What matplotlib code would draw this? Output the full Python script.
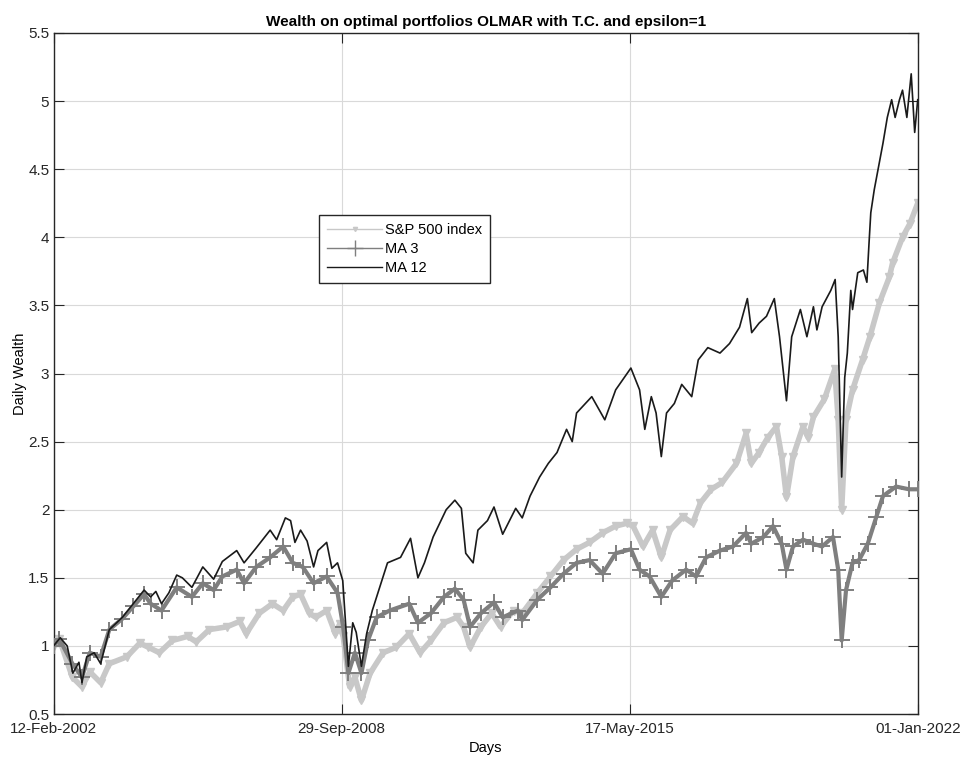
import numpy as np
import pandas as pd
import matplotlib
matplotlib.use('Agg')
import matplotlib.pyplot as plt
import matplotlib.dates as mdates
from matplotlib.lines import Line2D

plt.rcParams['font.family'] = ['Liberation Sans', 'DejaVu Sans']

# data (decimal years, wealth)
ma12_t = [2002.115, 2002.27, 2002.43, 2002.56, 2002.70, 2002.77, 2002.88, 2003.05, 2003.20, 2003.40,
          2003.70, 2003.95, 2004.20, 2004.35, 2004.47, 2004.60, 2004.77, 2004.95, 2005.08, 2005.30,
          2005.55, 2005.80, 2006.00, 2006.33, 2006.50, 2006.78, 2007.10, 2007.25, 2007.45, 2007.57,
          2007.67, 2007.80, 2007.95, 2008.10, 2008.20, 2008.40, 2008.52, 2008.65, 2008.77, 2008.82,
          2008.90, 2009.00, 2009.08, 2009.20, 2009.32, 2009.45, 2009.67, 2009.80, 2010.10, 2010.33,
          2010.50, 2010.65, 2010.85, 2011.15, 2011.35, 2011.50, 2011.60, 2011.77, 2011.88, 2012.10,
          2012.25, 2012.45, 2012.75, 2012.90, 2013.08, 2013.30, 2013.50, 2013.70, 2013.92, 2014.05,
          2014.15, 2014.50, 2014.80, 2015.05, 2015.40, 2015.60, 2015.72, 2015.87, 2015.98, 2016.10,
          2016.22, 2016.40, 2016.57, 2016.80, 2016.95, 2017.17, 2017.45, 2017.67, 2017.90, 2018.08,
          2018.18, 2018.35, 2018.52, 2018.70, 2018.82, 2018.98, 2019.10, 2019.30, 2019.45, 2019.60,
          2019.68, 2019.80, 2020.00, 2020.10, 2020.17, 2020.25, 2020.32, 2020.38, 2020.46, 2020.50,
          2020.62, 2020.75, 2020.83, 2020.88, 2020.92, 2021.00, 2021.10, 2021.20, 2021.30, 2021.40,
          2021.48, 2021.58, 2021.65, 2021.75, 2021.85, 2021.93, 2022.00]
ma12_v = [1.00, 1.06, 1.00, 0.80, 0.88, 0.73, 0.92, 0.95, 0.87, 1.12,
          1.21, 1.31, 1.41, 1.36, 1.40, 1.31, 1.39, 1.52, 1.50, 1.43,
          1.58, 1.49, 1.62, 1.70, 1.61, 1.72, 1.85, 1.78, 1.94, 1.92,
          1.76, 1.85, 1.77, 1.58, 1.70, 1.76, 1.57, 1.61, 1.48, 1.24,
          0.85, 1.17, 1.10, 0.85, 1.09, 1.26, 1.48, 1.61, 1.65, 1.79,
          1.50, 1.61, 1.80, 2.00, 2.07, 2.01, 1.68, 1.61, 1.85, 1.92,
          2.02, 1.82, 2.01, 1.94, 2.10, 2.24, 2.34, 2.42, 2.59, 2.50,
          2.71, 2.83, 2.66, 2.88, 3.04, 2.88, 2.59, 2.83, 2.71, 2.39,
          2.71, 2.78, 2.92, 2.83, 3.10, 3.19, 3.15, 3.22, 3.34, 3.55,
          3.30, 3.37, 3.42, 3.55, 3.27, 2.80, 3.27, 3.47, 3.27, 3.49,
          3.32, 3.49, 3.61, 3.69, 3.27, 2.24, 2.97, 3.15, 3.61, 3.47,
          3.74, 3.76, 3.67, 3.96, 4.18, 4.35, 4.52, 4.69, 4.88, 5.01,
          4.88, 5.01, 5.08, 4.88, 5.20, 4.77, 5.01]

sp_t = [2002.115, 2002.25, 2002.55, 2002.77, 2002.95, 2003.20, 2003.40, 2003.80, 2004.10, 2004.30,
        2004.55, 2004.85, 2005.20, 2005.40, 2005.70, 2006.10, 2006.40, 2006.55, 2006.85, 2007.15,
        2007.40, 2007.62, 2007.80, 2008.00, 2008.15, 2008.40, 2008.60, 2008.70, 2008.78, 2008.93,
        2009.05, 2009.20, 2009.40, 2009.70, 2010.00, 2010.30, 2010.55, 2010.80, 2011.10, 2011.40,
        2011.55, 2011.70, 2011.95, 2012.20, 2012.40, 2012.70, 2012.90, 2013.25, 2013.55, 2013.85,
        2014.15, 2014.45, 2014.75, 2015.05, 2015.30, 2015.45, 2015.68, 2015.90, 2016.10, 2016.30,
        2016.60, 2016.82, 2017.00, 2017.25, 2017.50, 2017.83, 2018.05, 2018.17, 2018.35, 2018.55,
        2018.75, 2018.87, 2018.98, 2019.13, 2019.36, 2019.48, 2019.60, 2019.85, 2020.09, 2020.17,
        2020.25, 2020.35, 2020.50, 2020.73, 2020.90, 2021.12, 2021.35, 2021.42, 2021.65, 2021.82,
        2022.00]
sp_v = [1.00, 1.05, 0.77, 0.70, 0.81, 0.73, 0.87, 0.92, 1.02, 0.99,
        0.95, 1.04, 1.07, 1.03, 1.12, 1.14, 1.18, 1.09, 1.24, 1.31,
        1.26, 1.36, 1.38, 1.24, 1.21, 1.26, 1.09, 1.16, 1.07, 0.70,
        0.77, 0.60, 0.80, 0.95, 0.99, 1.09, 0.95, 1.04, 1.17, 1.21,
        1.14, 0.99, 1.14, 1.24, 1.14, 1.26, 1.24, 1.39, 1.51, 1.63,
        1.71, 1.76, 1.83, 1.88, 1.90, 1.88, 1.73, 1.85, 1.65, 1.85,
        1.95, 1.90, 2.05, 2.15, 2.20, 2.34, 2.56, 2.34, 2.42, 2.53,
        2.61, 2.39, 2.09, 2.39, 2.61, 2.53, 2.68, 2.81, 3.03, 2.66,
        2.00, 2.66, 2.88, 3.10, 3.27, 3.52, 3.71, 3.81, 4.00, 4.10,
        4.25]

ma3_t = [2002.115, 2002.25, 2002.55, 2002.77, 2002.95, 2003.20, 2003.40, 2003.70, 2003.95, 2004.20,
         2004.35, 2004.60, 2004.95, 2005.30, 2005.55, 2005.80, 2006.00, 2006.33, 2006.50, 2006.78,
         2007.10, 2007.40, 2007.62, 2007.85, 2008.10, 2008.40, 2008.65, 2008.78, 2008.90, 2009.05,
         2009.20, 2009.35, 2009.55, 2009.85, 2010.30, 2010.50, 2010.80, 2011.10, 2011.35, 2011.55,
         2011.70, 2011.95, 2012.25, 2012.45, 2012.80, 2012.90, 2013.25, 2013.55, 2013.85, 2014.15,
         2014.45, 2014.75, 2015.05, 2015.40, 2015.60, 2015.83, 2016.10, 2016.35, 2016.67, 2016.90,
         2017.13, 2017.45, 2017.75, 2018.05, 2018.17, 2018.45, 2018.67, 2018.87, 2018.98, 2019.13,
         2019.36, 2019.60, 2019.80, 2020.05, 2020.17, 2020.25, 2020.35, 2020.50, 2020.65, 2020.85,
         2021.05, 2021.20, 2021.50, 2021.80, 2022.00]
ma3_v = [1.00, 1.05, 0.87, 0.77, 0.95, 0.92, 1.12, 1.20, 1.29, 1.38,
         1.31, 1.26, 1.43, 1.36, 1.46, 1.41, 1.51, 1.56, 1.46, 1.58,
         1.65, 1.73, 1.61, 1.58, 1.46, 1.51, 1.39, 1.14, 0.80, 0.95,
         0.80, 1.04, 1.21, 1.26, 1.31, 1.17, 1.24, 1.36, 1.42, 1.34,
         1.14, 1.24, 1.32, 1.21, 1.26, 1.19, 1.34, 1.43, 1.53, 1.61,
         1.63, 1.53, 1.68, 1.71, 1.56, 1.51, 1.36, 1.48, 1.56, 1.51,
         1.65, 1.70, 1.73, 1.83, 1.75, 1.80, 1.88, 1.75, 1.56, 1.73,
         1.78, 1.75, 1.73, 1.80, 1.56, 1.04, 1.41, 1.61, 1.63, 1.75,
         1.95, 2.10, 2.17, 2.15, 2.15]

tick_dates = ['2002-02-12', '2008-09-29', '2015-05-17', '2022-01-01']


def to_dates(years):
    start = pd.Timestamp('2002-01-01')
    return [start + pd.Timedelta(days=(y - 2002) * 365.25) for y in years]


fig = plt.figure(figsize=(9.64, 7.58), dpi=100)
ax = fig.add_axes([0.0555, 0.058, 0.8965, 0.8985])

ax.plot(to_dates(sp_t), sp_v, color='#c8c8c8', lw=4, marker='v', ms=6, mec='#c8c8c8', zorder=2)
ax.plot(to_dates(ma3_t), ma3_v, color='#7f7f7f', lw=3, marker='+', ms=11, mew=1.4, zorder=3)
ax.plot(to_dates(ma12_t), ma12_v, color='#1a1a1a', lw=1.2, zorder=4)

ax.set_xlim(pd.Timestamp('2002-02-12'), pd.Timestamp('2022-01-01'))
ax.set_ylim(0.5, 5.5)
ax.set_xticks([pd.Timestamp(d) for d in tick_dates])
ax.xaxis.set_major_formatter(mdates.DateFormatter('%d-%b-%Y'))
ax.set_yticks(np.arange(0.5, 5.51, 0.5))
ax.set_yticklabels(['%g' % v for v in np.arange(0.5, 5.51, 0.5)])

ax.grid(True, color='#d9d9d9', lw=0.8)
ax.set_axisbelow(True)
ax.tick_params(direction='in', length=7, top=True, right=True, labelsize=11, colors='#262626')
ax.tick_params(axis='x', pad=6)
ax.tick_params(axis='y', pad=3)
for s in ax.spines.values():
    s.set_color('#262626')
    s.set_linewidth(1)

ax.set_title('Wealth on optimal portfolios OLMAR with T.C. and epsilon=1',
             fontsize=11, fontweight='bold', pad=5)
ax.set_xlabel('Days', fontsize=10.5, labelpad=3)
ax.set_ylabel('Daily Wealth', fontsize=10.5, labelpad=1)

handles = [Line2D([], [], color='#c8c8c8', lw=1, marker='v', ms=3),
           Line2D([], [], color='#7f7f7f', lw=1, marker='+', ms=11),
           Line2D([], [], color='#1a1a1a', lw=1)]
leg = ax.legend(handles, ['S&P 500 index', 'MA 3', 'MA 12'], loc='upper left',
                bbox_to_anchor=(0.307, 0.733), fontsize=10.5, handlelength=3.8,
                fancybox=False, framealpha=1, edgecolor='#262626',
                borderpad=0.55, labelspacing=0.35, handletextpad=0.2, borderaxespad=0)
leg.get_frame().set_linewidth(1)

fig.savefig('out.png', dpi=100)
